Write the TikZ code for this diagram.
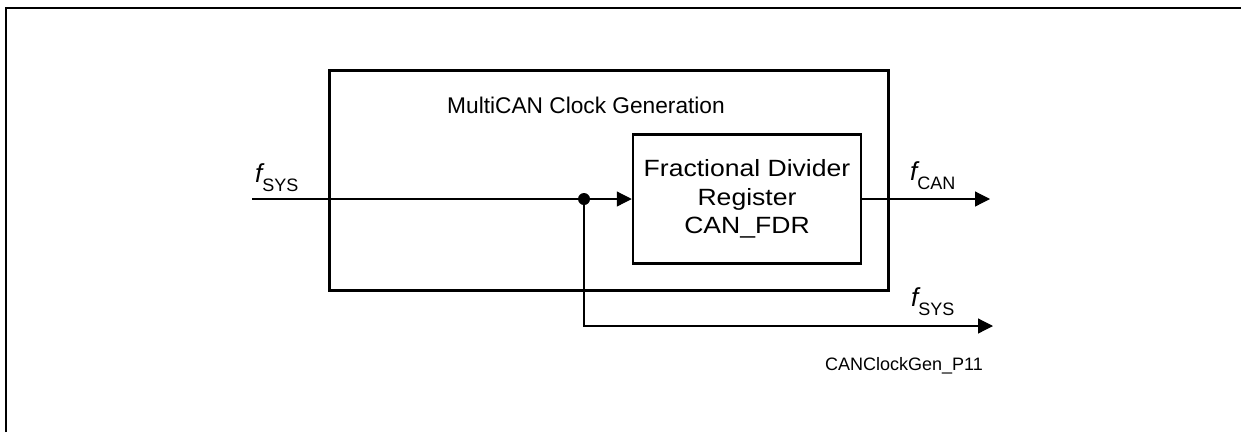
\documentclass[tikz,border=0pt]{standalone}
\usepackage{fontspec}
\setmainfont{Liberation Sans}
\newfontfamily\widefont[FakeStretch=1.13]{Liberation Sans}
\usetikzlibrary{arrows.meta}
\newcommand{\fsig}[1]{{\fontsize{26}{26}\selectfont\itshape f}\raisebox{-9pt}{\fontsize{18}{18}\selectfont #1}}
\begin{document}
\begin{tikzpicture}[x=1pt,y=-1pt,
  sig/.style={line width=1.2pt},
  arr/.style={sig,-{Triangle[length=15pt,width=15pt]}},
  lbl/.style={font=\fontsize{22.7}{28.5}\selectfont, inner sep=0pt},
  boxlbl/.style={font=\widefont\fontsize{23.5}{28.5}\selectfont, inner sep=0pt},
  siglbl/.style={inner sep=0pt, anchor=base west},
]
\useasboundingbox (0,0) rectangle (1241,432);
\draw[line width=1.3pt] (6,432) -- (6,8) -- (1241,8);
\node[draw, line width=3pt, inner sep=0pt, minimum width=559pt, minimum height=220pt] (outer) at (608.5,180) {};
\node[lbl, anchor=base] (title) at (586,113) {MultiCAN Clock Generation};
\node[draw, line width=2.5pt, minimum width=228pt, minimum height=129pt, boxlbl, align=center] (fdr) at (747,199) {Fractional Divider\\Register\\CAN\_FDR};
\coordinate (in) at (252,199);
\coordinate (split) at (584,199);
\coordinate (can) at (990,199);
\coordinate (sysout) at (993,326);
\draw[sig] (in) -- (split);
\draw[arr] (split) -- (fdr.west);
\draw[arr] (fdr.east) -- (can);
\draw[arr] (split) |- (sysout);
\fill (split) circle (6pt);
\node[siglbl] (lsys) at (255,182) {\fsig{SYS}};
\node[siglbl] (lcan) at (910,180) {\fsig{CAN}};
\node[siglbl] (lsys2) at (911,306) {\fsig{SYS}};
\node[anchor=base west, inner sep=0pt, font=\fontsize{18}{18}\selectfont] (cap) at (825,370) {CANClockGen\_P11};
\end{tikzpicture}
\end{document}
